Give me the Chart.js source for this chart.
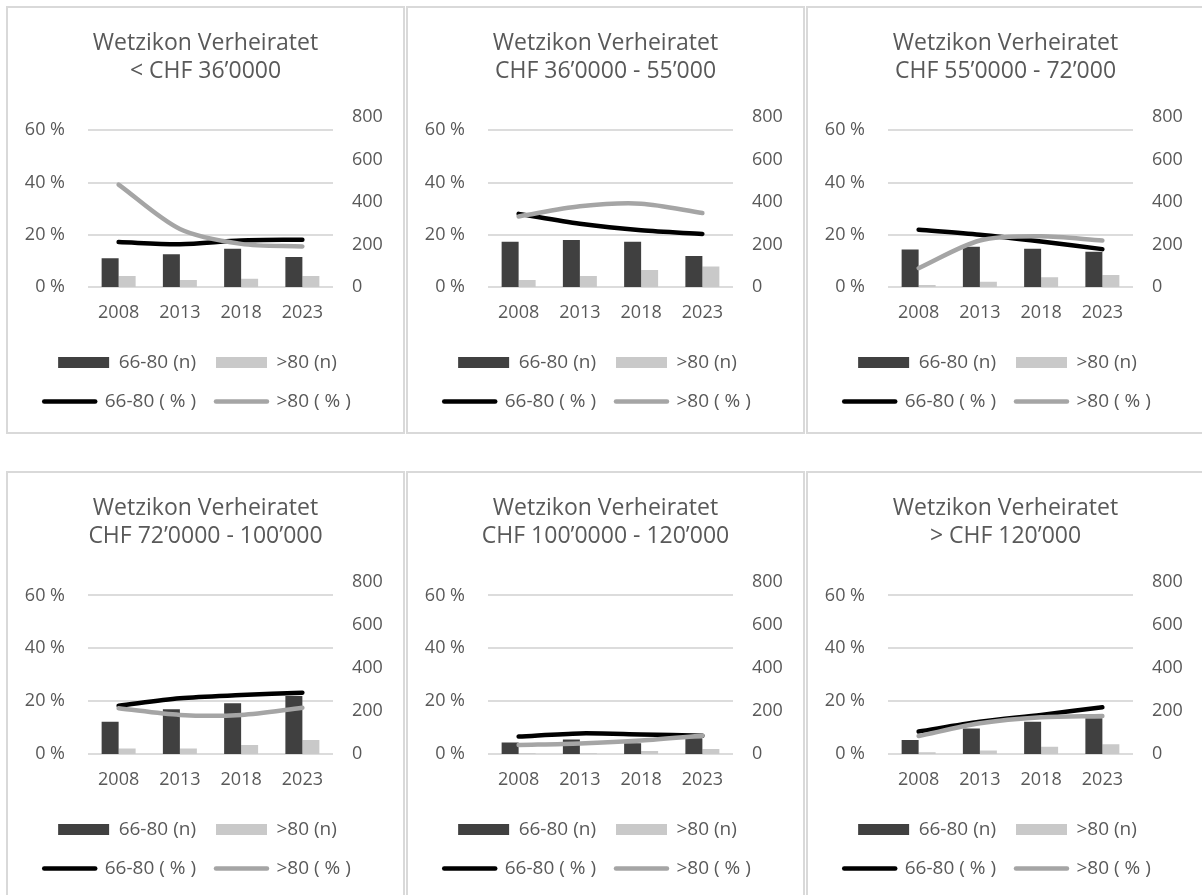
<!DOCTYPE html>
<html>
<head>
<meta charset="utf-8">
<script src="https://cdn.jsdelivr.net/npm/chart.js@4.4.1/dist/chart.umd.min.js"></script>
<style>
  body { margin: 0; background: #fff; width: 1202px; height: 895px; overflow: hidden; position: relative; }
  .panel { position: absolute; width: 399px; height: 428px; border: 2px solid #d9d9d9; box-sizing: border-box; background: #fff; }
  .panel canvas { display: block; }
</style>
</head>
<body>
<script>
const years = ['2008', '2013', '2018', '2023'];
const titles = [
    ['Wetzikon Verheiratet', '< CHF 36’0000'],
    ['Wetzikon Verheiratet', 'CHF 36’0000 - 55’000'],
    ['Wetzikon Verheiratet', 'CHF 55’0000 - 72’000'],
    ['Wetzikon Verheiratet', 'CHF 72’0000 - 100’000'],
    ['Wetzikon Verheiratet', 'CHF 100’0000 - 120’000'],
    ['Wetzikon Verheiratet', '> CHF 120’000']
];
// counts (right axis)
const n6680 = [
    [135, 154, 180, 141],
    [213, 221, 213, 146],
    [177, 190, 180, 166],
    [150, 208, 236, 270],
    [54, 68, 50, 73],
    [65, 119, 150, 166]
];
const n80 = [
    [52, 33, 39, 52],
    [33, 52, 80, 96],
    [9, 25, 46, 56],
    [26, 26, 42, 65],
    [3, 4, 14, 23],
    [8, 16, 34, 45]
];
// shares in % (left axis)
const pct6680 = [
    [17.2, 16.4, 17.8, 18.1],
    [28.0, 24.2, 21.7, 20.3],
    [21.9, 20.0, 17.4, 14.5],
    [18.3, 21.1, 22.3, 23.2],
    [6.6, 7.8, 7.4, 6.9],
    [8.5, 12.2, 14.8, 17.7]
];
const pct80 = [
    [39.2, 22.2, 16.5, 15.5],
    [27.0, 30.9, 31.9, 28.3],
    [7.2, 17.8, 19.4, 17.8],
    [17.3, 14.8, 14.8, 17.5],
    [3.4, 4.0, 5.1, 6.9],
    [6.8, 11.6, 13.9, 14.4]
];
const pctTicks = [0, 20, 40, 60];
const countTicks = [0, 200, 400, 600, 800];

const textColor = '#595959';
const family = "'Open Sans', sans-serif";
Chart.defaults.font.family = family;

const lefts = [6, 406, 806];
const tops = [6, 471];

// the legend in the original sits a bit left of the panel centre
const legendShift = {
    id: 'legendShift',
    afterLayout(chart) {
        chart.legend.left -= 8;
        chart.legend.right -= 8;
    }
};

titles.forEach((title, i) => {
    const row = Math.floor(i / 3);
    const div = document.createElement('div');
    div.className = 'panel';
    div.style.left = lefts[i % 3] + 'px';
    div.style.top = tops[row] + 'px';
    const canvas = document.createElement('canvas');
    canvas.width = 395;
    canvas.height = 424;
    div.appendChild(canvas);
    document.body.appendChild(div);

    new Chart(canvas, {
        data: {
            labels: years,
            datasets: [
                { type: 'bar', label: '66-80 (n)', data: n6680[i], yAxisID: 'yN', backgroundColor: '#404040', order: 2, categoryPercentage: 0.555, barPercentage: 1 },
                { type: 'bar', label: '>80 (n)', data: n80[i], yAxisID: 'yN', backgroundColor: '#c9c9c9', order: 3, categoryPercentage: 0.555, barPercentage: 1 },
                { type: 'line', label: '66-80 ( % )', data: pct6680[i], yAxisID: 'yP', borderColor: '#000000', borderWidth: 4.5, borderCapStyle: 'round', tension: 0.3, pointRadius: 0, order: 1 },
                { type: 'line', label: '>80 ( % )', data: pct80[i], yAxisID: 'yP', borderColor: '#a5a5a5', borderWidth: 4.5, borderCapStyle: 'round', tension: 0.3, pointRadius: 0, order: 0 }
            ]
        },
        plugins: [legendShift],
        options: {
            responsive: false,
            animation: false,
            layout: { padding: { top: 0, right: 0, bottom: row ? 9 : 11, left: 0 } },
            plugins: {
                title: {
                    display: true,
                    text: title,
                    color: textColor,
                    font: { size: 23, weight: 'normal', lineHeight: 1.2 },
                    padding: { top: 22, bottom: 32 }
                },
                legend: {
                    position: 'bottom',
                    labels: {
                        usePointStyle: true,
                        pointStyleWidth: 51,
                        boxWidth: 51,
                        boxHeight: 11,
                        padding: 20,
                        color: textColor,
                        font: { size: 19 },
                        generateLabels: chart => chart.data.datasets.map((ds, idx) => ({
                            text: ds.label,
                            fillStyle: ds.type === 'bar' ? ds.backgroundColor : ds.borderColor,
                            strokeStyle: ds.type === 'bar' ? ds.backgroundColor : ds.borderColor,
                            lineWidth: ds.type === 'bar' ? 0 : 4.5,
                            lineCap: 'round',
                            pointStyle: ds.type === 'bar' ? 'rect' : 'line',
                            fontColor: textColor,
                            hidden: false,
                            datasetIndex: idx
                        }))
                    }
                },
                tooltip: { enabled: false }
            },
            scales: {
                x: {
                    grid: { display: false, drawTicks: false },
                    border: { display: false },
                    ticks: { padding: 15, color: textColor, font: { size: 18 } },
                    afterFit: s => { s.height = 46; }
                },
                yP: {
                    position: 'left',
                    min: 0,
                    max: 65,
                    afterBuildTicks: s => { s.ticks = pctTicks.map(v => ({ value: v })); },
                    ticks: { padding: 23, color: textColor, font: { size: 18 }, callback: v => v + ' %' },
                    grid: { color: '#dcdcdc', lineWidth: 2, drawTicks: false },
                    border: { display: false },
                    afterFit: s => { s.width = 80; }
                },
                yN: {
                    position: 'right',
                    min: 0,
                    max: 800,
                    afterBuildTicks: s => { s.ticks = countTicks.map(v => ({ value: v })); },
                    ticks: { padding: 19, color: textColor, font: { size: 18 } },
                    grid: { display: false, drawTicks: false },
                    border: { display: false },
                    afterFit: s => { s.width = 70; }
                }
            }
        }
    });
});
</script>
</body>
</html>
